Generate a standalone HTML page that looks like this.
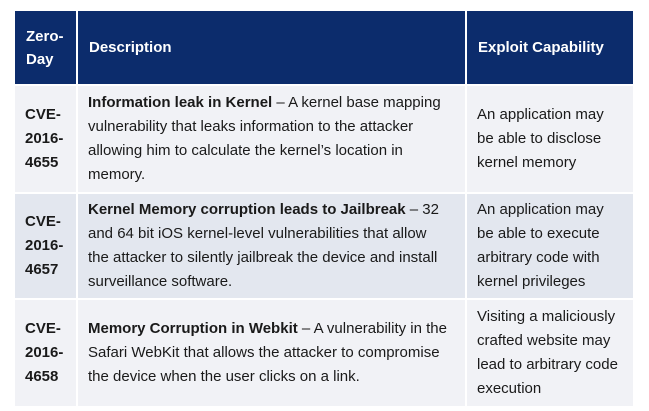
<!DOCTYPE html>
<html><head><style>
body{margin:0;width:649px;height:411px;background:#fff;font-family:"Liberation Sans",sans-serif;font-size:15px;color:#1a1a1a;position:relative;overflow:hidden}
.c{position:absolute;box-sizing:border-box}
.h{background:#0c2c6c;color:#fff;font-weight:bold}
.t{position:absolute;line-height:24px;white-space:nowrap}
b{font-weight:bold}
</style></head><body>
<div class="c h" style="left:15px;top:11px;width:61px;height:73px"></div>
<div class="c h" style="left:78px;top:11px;width:387px;height:73px"></div>
<div class="c h" style="left:467px;top:11px;width:166px;height:73px"></div>
<div class="t" style="left:26px;top:25px;color:#fff;font-weight:bold;line-height:23px">Zero-<br>Day</div>
<div class="t" style="left:89px;top:36px;color:#fff;font-weight:bold">Description</div>
<div class="t" style="left:478px;top:36px;color:#fff;font-weight:bold">Exploit Capability</div>

<div class="c" style="left:15px;top:86px;width:61px;height:106px;background:#f1f2f6"></div>
<div class="c" style="left:78px;top:86px;width:387px;height:106px;background:#f1f2f6"></div>
<div class="c" style="left:467px;top:86px;width:166px;height:106px;background:#f1f2f6"></div>

<div class="c" style="left:15px;top:194px;width:61px;height:104px;background:#e3e7ef"></div>
<div class="c" style="left:78px;top:194px;width:387px;height:104px;background:#e3e7ef"></div>
<div class="c" style="left:467px;top:194px;width:166px;height:104px;background:#e3e7ef"></div>

<div class="c" style="left:15px;top:300px;width:61px;height:106px;background:#f1f2f6"></div>
<div class="c" style="left:78px;top:300px;width:387px;height:106px;background:#f1f2f6"></div>
<div class="c" style="left:467px;top:300px;width:166px;height:106px;background:#f1f2f6"></div>

<div class="t" style="left:25px;top:103px;font-weight:bold">CVE-<br>2016-<br>4655</div>
<div class="t" style="left:88px;top:91px"><b>Information leak in Kernel</b> – A kernel base mapping<br>vulnerability that leaks information to the attacker<br>allowing him to calculate the kernel’s location in<br>memory.</div>
<div class="t" style="left:477px;top:103px">An application may<br>be able to disclose<br>kernel memory</div>

<div class="t" style="left:25px;top:210px;font-weight:bold">CVE-<br>2016-<br>4657</div>
<div class="t" style="left:88px;top:198px"><b>Kernel Memory corruption leads to Jailbreak</b> – 32<br>and 64 bit iOS kernel-level vulnerabilities that allow<br>the attacker to silently jailbreak the device and install<br>surveillance software.</div>
<div class="t" style="left:477px;top:198px">An application may<br>be able to execute<br>arbitrary code with<br>kernel privileges</div>

<div class="t" style="left:25px;top:317px;font-weight:bold">CVE-<br>2016-<br>4658</div>
<div class="t" style="left:88px;top:317px"><b>Memory Corruption in Webkit</b> – A vulnerability in the<br>Safari WebKit that allows the attacker to compromise<br>the device when the user clicks on a link.</div>
<div class="t" style="left:477px;top:305px">Visiting a maliciously<br>crafted website may<br>lead to arbitrary code<br>execution</div>
</body></html>
